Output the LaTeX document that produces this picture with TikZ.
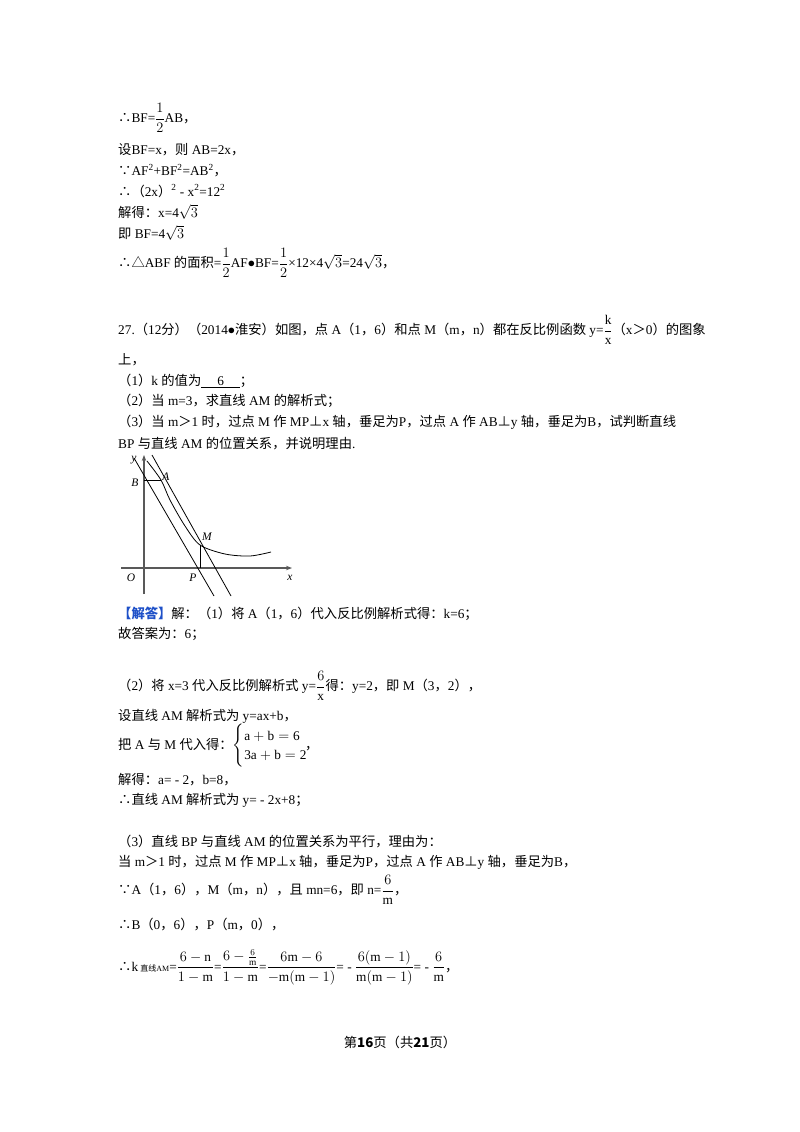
\documentclass[tikz,border=0pt]{standalone}
\usepackage{amsmath}
\usepackage{fontspec}
\setmainfont{Liberation Serif}
\newfontfamily\zhf{Noto Sans CJK SC}
\newcommand\zh[1]{{\zhf #1}}
\usetikzlibrary{arrows.meta}
\begin{document}
\begin{tikzpicture}[x=1pt,y=-1pt,
  ln/.style={anchor=west,inner sep=0pt,font=\fontsize{13.3}{16}\selectfont},
  lab/.style={inner sep=0pt,font=\fontsize{11.5}{13}\selectfont\itshape},
  crv/.style={line width=0.8pt},
  axis/.style={line width=1.4pt,draw=black!65,-{Stealth[length=6pt]}}]
\useasboundingbox (0,0) rectangle (800,1132);
\node[ln] (l1) at (118,118) {\zh{∴}BF=$\dfrac{1}{2}$AB\zh{，}};
\node[ln] (l2) at (118,150) {\zh{设}BF=x\zh{，则} AB=2x\zh{，}};
\node[ln] (l3) at (118,171) {\zh{∵}AF\textsuperscript{2}+BF\textsuperscript{2}=AB\textsuperscript{2}\zh{，}};
\node[ln] (l4) at (118,191) {\zh{∴（}2x\zh{）}\textsuperscript{2} - x\textsuperscript{2}=12\textsuperscript{2}};
\node[ln] (l5) at (118,212) {\zh{解得：}x=4$\sqrt{3}$};
\node[ln] (l6) at (118,233) {\zh{即} BF=4$\sqrt{3}$};
\node[ln] (l7) at (118,263) {\zh{∴△}ABF \zh{的面积}=$\dfrac{1}{2}$AF$\bullet$BF=$\dfrac{1}{2}$×12×4$\sqrt{3}$=24$\sqrt{3}$\zh{，}};
\node[ln] (l8) at (118,330) {27.\zh{（}12\zh{分）（}2014$\bullet$\zh{淮安）如图，点} A\zh{（}1\zh{，}6\zh{）和点} M\zh{（}m\zh{，}n\zh{）都在反比例函数} y=$\dfrac{\mathrm{k}}{\mathrm{x}}$\zh{（}x\zh{＞}0\zh{）的图象}};
\node[ln] (l9) at (118,360) {\zh{上，}};
\node[ln] (l10) at (118,381) {\zh{（}1\zh{）}k \zh{的值为}\underline{\hspace{1.2em}6\hspace{1.2em}}\zh{；}};
\node[ln] (l11) at (118,401) {\zh{（}2\zh{）当} m=3\zh{，求直线} AM \zh{的解析式；}};
\node[ln] (l12) at (118,422) {\zh{（}3\zh{）当} m\zh{＞}1 \zh{时，过点} M \zh{作} MP\zh{⊥}x \zh{轴，垂足为}P\zh{，过点} A \zh{作} AB\zh{⊥}y \zh{轴，垂足为}B\zh{，试判断直线}};
\node[ln] (l13) at (118,444) {BP \zh{与直线} AM \zh{的位置关系，并说明理由}.};
% graph
\coordinate (O) at (144,568);
\coordinate (Bp) at (144,480);
\coordinate (Ap) at (161,480);
\coordinate (Mp) at (200,545);
\coordinate (Pp) at (200,568);
\draw[axis] (121,568) -- (292,568);
\draw[axis] (144,594) -- (144,455);
\draw[crv] (Bp) -- (Ap);
\draw[crv] (Mp) -- (Pp);
\draw[crv] (134,458) -- (214,596);
\draw[crv] (152,455) -- (231,596);
\draw[crv] plot[smooth] coordinates {(147,461) (161,480) (170,500) (185,526) (200,545) (225,554) (250,556) (271,552)};
\node[lab] (ly) at (134,460) {y};
\node[lab] (lB) at (135,483) {B};
\node[lab] (lA) at (166,477) {A};
\node[lab] (lM) at (207,537) {M};
\node[lab] (lO) at (131,578) {O};
\node[lab] (lP) at (193,578) {P};
\node[lab] (lx) at (290,578) {x};
\node[ln] (l14) at (118,614) {\zh{\bfseries\color[RGB]{30,80,200}【解答】}\zh{解：（}1\zh{）将} A\zh{（}1\zh{，}6\zh{）代入反比例解析式得：}k=6\zh{；}};
\node[ln] (l15) at (118,634) {\zh{故答案为：}6\zh{；}};
\node[ln] (l16) at (118,686) {\zh{（}2\zh{）将} x=3 \zh{代入反比例解析式} y=$\dfrac{6}{\mathrm{x}}$\zh{得：}y=2\zh{，即} M\zh{（}3\zh{，}2\zh{），}};
\node[ln] (l17) at (118,716) {\zh{设直线} AM \zh{解析式为} y=ax+b\zh{，}};
\node[ln] (l18) at (118,746) {\zh{把} A \zh{与} M \zh{代入得：}$\begin{cases}\mathrm{a+b=6}\\ \mathrm{3a+b=2}\end{cases}$\hspace{-1.2em}\zh{，}};
\node[ln] (l19) at (118,780) {\zh{解得：}a= - 2\zh{，}b=8\zh{，}};
\node[ln] (l20) at (118,800) {\zh{∴直线} AM \zh{解析式为} y= - 2x+8\zh{；}};
\node[ln] (l21) at (118,842) {\zh{（}3\zh{）直线} BP \zh{与直线} AM \zh{的位置关系为平行，理由为：}};
\node[ln] (l22) at (118,862) {\zh{当} m\zh{＞}1 \zh{时，过点} M \zh{作} MP\zh{⊥}x \zh{轴，垂足为}P\zh{，过点} A \zh{作} AB\zh{⊥}y \zh{轴，垂足为}B\zh{，}};
\node[ln] (l23) at (118,890) {\zh{∵}A\zh{（}1\zh{，}6\zh{），}M\zh{（}m\zh{，}n\zh{），且} mn=6\zh{，即} n=$\dfrac{6}{\mathrm{m}}$\zh{，}};
\node[ln] (l24) at (118,925) {\zh{∴}B\zh{（}0\zh{，}6\zh{），}P\zh{（}m\zh{，}0\zh{），}};
\node[ln] (l25) at (118,967) {\zh{∴}k\,{\fontsize{8}{9}\selectfont\zh{直线}AM}=$\dfrac{6-\mathrm{n}}{1-\mathrm{m}}$=$\dfrac{6-\frac{6}{\mathrm{m}}}{1-\mathrm{m}}$=$\dfrac{6\mathrm{m}-6}{-\mathrm{m}(\mathrm{m}-1)}$= - $\dfrac{6(\mathrm{m}-1)}{\mathrm{m}(\mathrm{m}-1)}$= - $\dfrac{6}{\mathrm{m}}$\zh{，}};
\node[ln,anchor=center] (ft) at (400,1042) {\zh{第\textbf{16}页（共\textbf{21}页）}};
\end{tikzpicture}
\end{document}
